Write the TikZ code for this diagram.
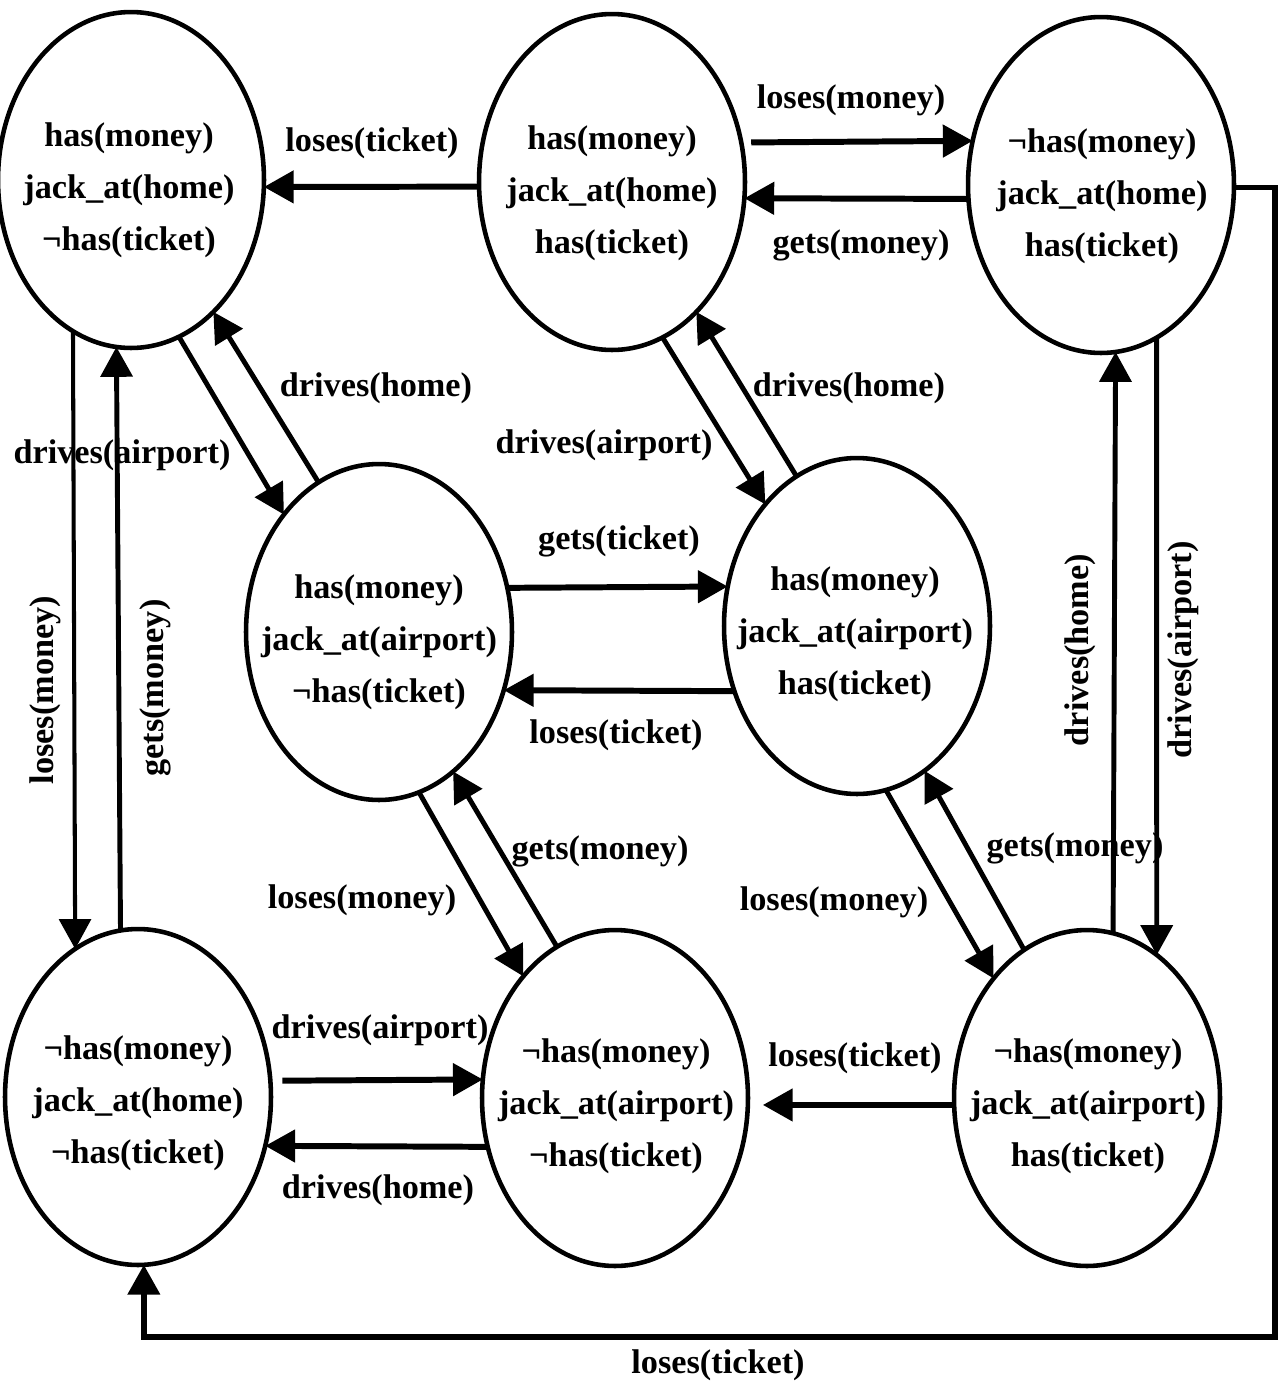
\documentclass[tikz,border=0pt]{standalone}
\usepackage{fontspec}
\setmainfont{Liberation Serif}
\usetikzlibrary{shapes.geometric, arrows.meta}
\begin{document}
\begin{tikzpicture}[x=0.02cm, y=-0.02cm,
  state/.style={ellipse, draw, line width=2.6pt, minimum width=5.32cm, minimum height=6.72cm, inner sep=0pt, outer sep=0pt},
  txt/.style={font=\fontsize{19.5}{29.6}\selectfont\bfseries, align=center, inner sep=0pt},
  lbl/.style={font=\fontsize{19.5}{24}\selectfont\bfseries, inner sep=0pt},
  tip/.style={-{Triangle[length=17pt,width=18pt]}},
  harr/.style={tip, line width=3.4pt},
  varr/.style={tip, line width=2.8pt},
  darr/.style={tip, line width=2.8pt},
  looparr/.style={tip, line width=3.2pt}
]
\useasboundingbox (0,0) rectangle (1280,1387);

% states
\node[state] (A) at (131,180) {};
\node[state] (B) at (612,182) {};
\node[state] (C) at (1101,185) {};
\node[state] (D) at (379,632) {};
\node[state] (E) at (857,626) {};
\node[state] (F) at (138,1097) {};
\node[state] (G) at (615,1098) {};
\node[state] (H) at (1087,1098) {};

\node[txt] (tA) at (129,190) {has(money)\\jack\_at(home)\\¬has(ticket)};
\node[txt] (tB) at (612,193) {has(money)\\jack\_at(home)\\has(ticket)};
\node[txt] (tC) at (1102,196) {¬has(money)\\jack\_at(home)\\has(ticket)};
\node[txt] (tD) at (379,642) {has(money)\\jack\_at(airport)\\¬has(ticket)};
\node[txt] (tE) at (855,634) {has(money)\\jack\_at(airport)\\has(ticket)};
\node[txt] (tF) at (138,1103) {¬has(money)\\jack\_at(home)\\¬has(ticket)};
\node[txt] (tG) at (616,1106) {¬has(money)\\jack\_at(airport)\\¬has(ticket)};
\node[txt] (tH) at (1088,1106) {¬has(money)\\jack\_at(airport)\\has(ticket)};

% labels
\node[lbl] (l1) at (372,143) {loses(ticket)};
\node[lbl] (l2) at (851,100) {loses(money)};
\node[lbl] (l3) at (861,245) {gets(money)};
\node[lbl] (l4) at (718,1365) {loses(ticket)};
\node[lbl, rotate=90] (l5) at (45,690) {loses(money)};
\node[lbl, rotate=90] (l6) at (155,688) {gets(money)};
\node[lbl] (l7) at (122,455) {drives(airport)};
\node[lbl] (l8) at (376,388) {drives(home)};
\node[lbl] (l9) at (604,445) {drives(airport)};
\node[lbl] (l10) at (849,388) {drives(home)};
\node[lbl] (l11) at (619,541) {gets(ticket)};
\node[lbl] (l12) at (616,735) {loses(ticket)};
\node[lbl] (l13) at (362,900) {loses(money)};
\node[lbl] (l14) at (600,851) {gets(money)};
\node[lbl] (l15) at (834,902) {loses(money)};
\node[lbl] (l16) at (1075,848) {gets(money)};
\node[lbl, rotate=90] (l17) at (1080,650) {drives(home)};
\node[lbl, rotate=90] (l18) at (1183,650) {drives(airport)};
\node[lbl] (l19) at (380,1030) {drives(airport)};
\node[lbl] (l20) at (378,1190) {drives(home)};
\node[lbl] (l21) at (855,1058) {loses(ticket)};

% horizontal transitions
\draw[harr] (B.182) -- (A.-3);
\draw[harr, shorten <=0.2cm] (B.17) -- (C.161.5);
\draw[harr] (C.186.5) -- (B.-7.8);
\draw[harr] (D.19.4) -- (E.163.2);
\draw[harr] (E.208.4) -- (D.-25.8);
\draw[harr, shorten <=0.24cm] (F.7.3) -- (G.172.3);
\draw[harr] (G.201.5) -- (F.-21.9);
\draw[harr, shorten >=0.3cm] (H.183.9) -- (G.-3.9);

% vertical transitions
\draw[varr, line width=2.3pt] (A.249.8) -- (F.113.1);
\draw[varr] (F.96.9) -- (A.265.6);
\draw[varr] (H.81) -- (C.-85.9);
\draw[varr] (C.-70.6) -- (H.64.8);

% diagonal transitions
\draw[darr] (A.-73.3) -- (D.129.4);
\draw[darr] (D.112.4) -- (A.-58.1);
\draw[darr] (B.-72.8) -- (E.127.4);
\draw[darr] (E.112.1) -- (B.-57.8);
\draw[darr] (D.-76.8) -- (G.127.2);
\draw[darr] (G.111.7) -- (D.-62.2);
\draw[darr] (E.-80.6) -- (H.128.3);
\draw[darr] (H.113.6) -- (E.-65);

% loop
\coordinate (lc) at (1275,1337);
\draw[looparr] (C.-1) -| (lc) -| (F.-88.6);
\end{tikzpicture}
\end{document}
